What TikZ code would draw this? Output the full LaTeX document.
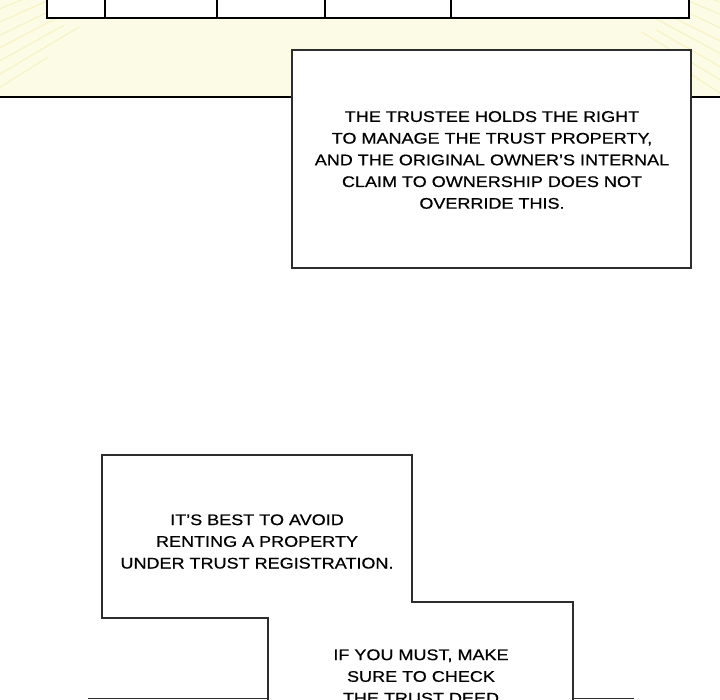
\documentclass[tikz,border=0pt]{standalone}
\usepackage{fontspec}
\setmainfont{Liberation Sans}[FakeStretch=1.17,FakeBold=0.6]
\usetikzlibrary{calc}
\definecolor{cream}{RGB}{251,251,230}
\definecolor{ray}{RGB}{247,241,185}
\definecolor{boxline}{RGB}{45,45,45}
\tikzset{
  panelline/.style={line width=2.6pt,black},
  boxedge/.style={line width=1.5pt,draw=boxline,fill=white},
  caption/.style={align=center,font=\fontsize{15.4}{21.7}\selectfont,inner sep=0pt,text=black},
  raystroke/.style={draw=ray,line width=0.8pt}
}
\begin{document}
\begin{tikzpicture}[x=1pt,y=-1pt]
\useasboundingbox (0,0) rectangle (720,700);
\clip (0,0) rectangle (720,700);
% top panel background
\fill[cream] (0,0) rectangle (720,97);
\coordinate (rc) at (360,-140);
\begin{scope}
\clip (0,0) rectangle (720,97);
\foreach \y/\f in {4/0.6,17/0.66,31/0.62,45/0.72,58/0.68,72/0.78,86/0.74,100/0.82}{
  \draw[raystroke] ($(rc)!\f!(-20,\y)$) -- (-20,\y);
  \draw[raystroke] ($(rc)!\f!(740,\y+6)$) -- (740,\y+6);
}
\end{scope}
% table at top
\fill[white] (47,-5) rectangle (689,18);
\draw[panelline] (47,-5) -- (47,18) -- (689,18) -- (689,-5);
\foreach \x in {105,217,325,451}{ \draw[panelline] (\x,-5) -- (\x,18); }
% panel border
\draw[panelline] (0,97) -- (720,97);
% box 1
\draw[boxedge] (292,50) rectangle (691,268);
\node[caption] (t1) at (492,160) {THE TRUSTEE HOLDS THE RIGHT\\TO MANAGE THE TRUST PROPERTY,\\AND THE ORIGINAL OWNER'S INTERNAL\\CLAIM TO OWNERSHIP DOES NOT\\OVERRIDE THIS.};
% lower panel border
\draw[line width=1.5pt,boxline] (88,698.5) -- (268,698.5);
\draw[line width=1.5pt,boxline] (573,698.5) -- (634,698.5);
% box 2 (stepped)
\draw[boxedge] (268,705) -- (268,618) -- (102,618) -- (102,455) -- (412,455) -- (412,602) -- (573,602) -- (573,705);
\node[caption] (t2) at (257,541.5) {IT'S BEST TO AVOID\\RENTING A PROPERTY\\UNDER TRUST REGISTRATION.};
\node[caption] (t3) at (421,676.5) {IF YOU MUST, MAKE\\SURE TO CHECK\\THE TRUST DEED};
\end{tikzpicture}
\end{document}
